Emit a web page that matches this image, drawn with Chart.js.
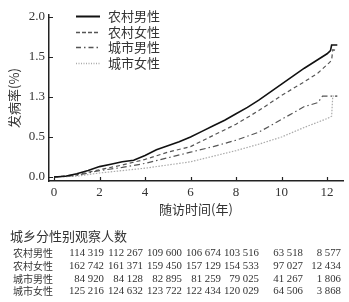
<!DOCTYPE html>
<html>
<head>
<meta charset="utf-8">
<script src="https://cdn.jsdelivr.net/npm/chart.js@4/dist/chart.umd.min.js"></script>
<style>
  body { margin: 0; background: #fff; }
  #wrap { position: relative; width: 349px; height: 302px; }
  #chart { position: absolute; left: 0; top: 0; }
  #table { position: absolute; left: 0; top: 0; width: 349px; height: 302px; color: #333; }
  #table .title { position: absolute; left: 10px; top: 226px; font: 13px "Noto Sans CJK SC"; }
  #table .lab { position: absolute; left: 13px; font: 10px "Noto Sans CJK SC"; line-height: 13px; }
  #table .num { position: absolute; font: 10.8px "Liberation Serif"; line-height: 13px; text-align: right; white-space: nowrap; }
</style>
</head>
<body>
<div id="wrap">
  <canvas id="chart" width="349" height="302"></canvas>
  <div id="table"></div>
</div>
<script>
// series (years of follow-up, cumulative incidence %)
const seriesNames = ["农村男性", "农村女性", "城市男性", "城市女性"];

const ruralMaleT = [0, 0.5, 1, 1.5, 2, 2.5, 3, 3.5, 4, 4.5, 5, 5.5, 6, 6.5, 7, 7.5, 8, 8.5, 9, 9.5, 10, 10.5, 11, 11.5, 12, 12.15, 12.2, 12.45];
const ruralMale = [0, 0.01, 0.04, 0.08, 0.13, 0.16, 0.19, 0.21, 0.27, 0.34, 0.39, 0.44, 0.50, 0.57, 0.64, 0.71, 0.79, 0.87, 0.96, 1.06, 1.16, 1.26, 1.36, 1.45, 1.54, 1.58, 1.65, 1.65];

const ruralFemaleT = [0, 1, 2, 3, 4, 5, 6, 7, 8, 9, 10, 11, 11.6, 12.1, 12.2, 12.25, 12.45];
const ruralFemale = [0, 0.03, 0.09, 0.15, 0.22, 0.31, 0.38, 0.52, 0.66, 0.83, 1.02, 1.19, 1.30, 1.43, 1.46, 1.59, 1.58];

const urbanMaleT = [0, 1, 2, 3, 4, 5, 6, 7, 8, 9, 10, 11, 11.6, 11.8, 12.45];
const urbanMale = [0, 0.02, 0.08, 0.12, 0.17, 0.24, 0.31, 0.38, 0.46, 0.56, 0.72, 0.88, 0.93, 1.01, 1.01];

const urbanFemaleT = [0, 1, 2, 3, 4, 5, 6, 7, 8, 9, 10, 11, 12, 12.2, 12.25, 12.45];
const urbanFemale = [0, 0.01, 0.05, 0.08, 0.11, 0.15, 0.19, 0.26, 0.33, 0.41, 0.50, 0.62, 0.73, 0.76, 1.01, 1.01];

const xTicks = [0, 2, 4, 6, 8, 10, 12];
const yTicks = [0, 0.5, 1, 1.5, 2];
const yTickLabels = ["0.0", "0.5", "1.3", "1.5", "2.0"];

// numbers at risk table
const tableTitle = "城乡分性别观察人数";
const atRiskRuralMale = ["114 319", "112 267", "109 600", "106 674", "103 516", "63 518", "8 577"];
const atRiskRuralFemale = ["162 742", "161 371", "159 450", "157 129", "154 533", "97 027", "12 434"];
const atRiskUrbanMale = ["84 920", "84 128", "82 895", "81 259", "79 025", "41 267", "1 806"];
const atRiskUrbanFemale = ["125 216", "124 632", "123 722", "122 434", "120 029", "64 506", "3 868"];

function pts(t, v) {
  return t.map((x, i) => ({ x: x, y: v[i] }));
}

const styles = [
  { color: "#111", width: 1.6, dash: [] },
  { color: "#555", width: 1.2, dash: [4, 3] },
  { color: "#555", width: 1.2, dash: [6, 3, 1.5, 3] },
  { color: "#aaa", width: 1.2, dash: [1.5, 1.5] }
];
const seriesData = [
  pts(ruralMaleT, ruralMale),
  pts(ruralFemaleT, ruralFemale),
  pts(urbanMaleT, urbanMale),
  pts(urbanFemaleT, urbanFemale)
];

const datasets = seriesNames.map((name, i) => ({
  label: name,
  data: seriesData[i],
  borderColor: styles[i].color,
  borderWidth: styles[i].width,
  borderDash: styles[i].dash,
  pointRadius: 0,
  tension: 0,
  fill: false
}));

// inward tick marks
const innerTicks = {
  id: "innerTicks",
  afterDraw(chart) {
    const ctx = chart.ctx;
    const area = chart.chartArea;
    const xs = chart.scales.x, ys = chart.scales.y;
    ctx.save();
    ctx.strokeStyle = "#222";
    ctx.lineWidth = 1.2;
    ctx.beginPath();
    yTicks.forEach(v => {
      const y = Math.round(ys.getPixelForValue(v)) + 0.5;
      ctx.moveTo(area.left, y);
      ctx.lineTo(area.left + 4, y);
    });
    xTicks.forEach(v => {
      const x = Math.round(xs.getPixelForValue(v)) + 0.5;
      ctx.moveTo(x, area.bottom);
      ctx.lineTo(x, area.bottom - 4);
    });
    ctx.stroke();
    ctx.restore();
  }
};

// legend drawn inside the plot, one entry per row
const lineLegend = {
  id: "lineLegend",
  afterDraw(chart) {
    const ctx = chart.ctx;
    ctx.save();
    chart.data.datasets.forEach((ds, i) => {
      const y = Math.round(16 + i * 15.7) + 0.5;
      ctx.beginPath();
      ctx.setLineDash(i === 0 ? [] : (i === 1 ? [4, 2] : (i === 2 ? [5, 3, 1.5, 3] : [1, 1.5])));
      ctx.strokeStyle = ds.borderColor;
      ctx.lineWidth = i === 0 ? 2 : 1.6;
      ctx.moveTo(76, y);
      ctx.lineTo(100, y);
      ctx.stroke();
      ctx.setLineDash([]);
      ctx.fillStyle = "#333";
      ctx.font = '13px "Noto Sans CJK SC"';
      ctx.textBaseline = "middle";
      ctx.fillText(ds.label, 108, y);
    });
    ctx.restore();
  }
};

new Chart(document.getElementById("chart").getContext("2d"), {
  type: "line",
  data: { datasets: datasets },
  options: {
    responsive: false,
    animation: false,
    layout: { padding: { top: 15, left: 0, right: 6, bottom: 84 } },
    plugins: { legend: { display: false }, tooltip: { enabled: false } },
    scales: {
      x: {
        type: "linear",
        min: -0.22,
        max: 12.7,
        afterBuildTicks: s => { s.ticks = xTicks.map(v => ({ value: v })); },
        afterFit: s => { s.height = 37; },
        grid: { display: false, drawTicks: false },
        border: { display: true, color: "#222", width: 1.5 },
        ticks: { padding: 4, color: "#333", font: { family: "Liberation Serif", size: 13 }, maxRotation: 0 },
        title: { display: true, text: "随访时间(年)", color: "#333", font: { family: "Noto Sans CJK SC", size: 13 }, padding: { top: 0, bottom: 1 } }
      },
      y: {
        min: -0.05,
        max: 2.025,
        afterBuildTicks: s => { s.ticks = yTicks.map(v => ({ value: v })); },
        afterFit: s => { s.width = 49; },
        grid: { display: false, drawTicks: false },
        border: { display: true, color: "#222", width: 1.5 },
        ticks: {
          padding: 4,
          color: "#333",
          font: { family: "Liberation Serif", size: 13 },
          callback: (v, i) => yTickLabels[i]
        },
        title: { display: true, text: "发病率(%)", color: "#333", font: { family: "Noto Sans CJK SC", size: 13 }, padding: { top: 6, bottom: 0 } }
      }
    }
  },
  plugins: [innerTicks, lineLegend]
});

// numbers at risk table as html text
const table = document.getElementById("table");
const rows = [atRiskRuralMale, atRiskRuralFemale, atRiskUrbanMale, atRiskUrbanFemale];
const colRight = [104, 143, 182, 221, 259, 303, 341];
let html = '<div class="title">' + tableTitle + '</div>';
rows.forEach((row, r) => {
  const top = 246 + r * 12.8;
  html += '<div class="lab" style="top:' + top + 'px">' + seriesNames[r] + '</div>';
  row.forEach((n, c) => {
    html += '<div class="num" style="top:' + top + 'px;right:' + (349 - colRight[c]) + 'px">' + n + '</div>';
  });
});
table.innerHTML = html;
</script>
</body>
</html>
